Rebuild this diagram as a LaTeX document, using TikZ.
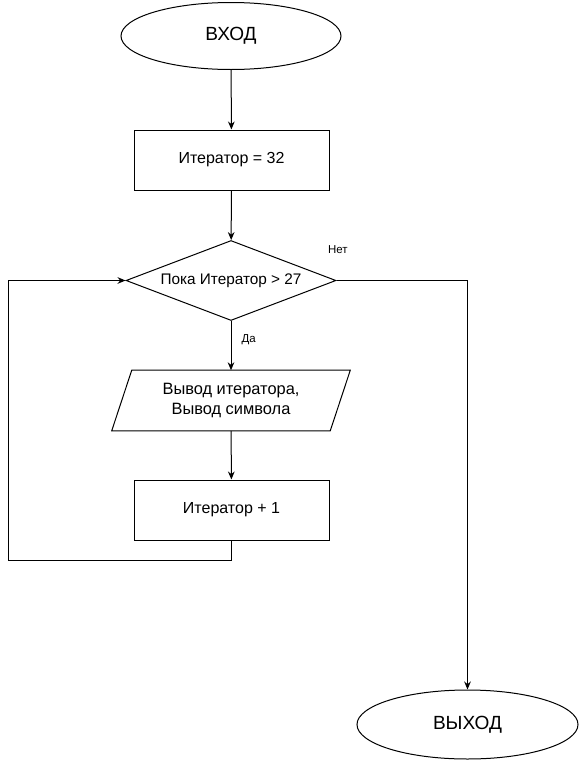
\documentclass[tikz,border=0pt]{standalone}
\usepackage{fontspec}
\setmainfont{Liberation Sans}
\usepackage{tikz}
\usetikzlibrary{shapes.geometric, arrows.meta, positioning, calc}

\begin{document}
\begin{tikzpicture}[
    x=0.75pt, y=-0.75pt,
    termblock/.style={ellipse, draw, line width=0.75pt, minimum width=165pt, minimum height=50.25pt, inner sep=0pt, font=\fontsize{14.3}{16}\selectfont},
    procblock/.style={rectangle, draw, line width=0.75pt, minimum width=146.25pt, minimum height=45pt, inner sep=0pt, font=\fontsize{12}{13.5}\selectfont},
    decblock/.style={diamond, draw, line width=0.75pt, aspect=2.625, minimum width=157.5pt, minimum height=60pt, inner sep=0pt, font=\fontsize{11.5}{13.5}\selectfont},
    ioblock/.style={rectangle, minimum width=163.5pt, minimum height=45pt, inner sep=0pt, align=center, font=\fontsize{12.3}{15.5}\selectfont},
    arrow/.style={-{Stealth[length=6pt, width=5pt]}, line width=0.75pt},
    edgelabel/.style={font=\fontsize{8.6}{10}\selectfont, inner sep=0pt}
]
    \useasboundingbox (0,0) rectangle (579,761);

    % Main chain
    \node[termblock] (start) at (231,36) {ВХОД};
    \node[procblock] (init) at (231.5,160) {Итератор = 32};
    \node[decblock] (cond) at (231,280.5) {Пока Итератор > 27};
    \node[ioblock] (out) at (231,400.5) {Вывод итератора,\\Вывод символа};
    \node[procblock] (inc) at (231.5,510) {Итератор + 1};
    \node[termblock, minimum width=165.75pt, minimum height=51.75pt] (stop) at (467.5,724.5) {ВЫХОД};

    % Parallelogram outline for output
    \draw[line width=0.75pt] ($(out.south west)+(-10,0)$) -- ($(out.north west)+(10,0)$)
        -- ($(out.north east)+(10,0)$) -- ($(out.south east)+(-10,0)$) -- cycle;

    % Loop corner
    \coordinate (loopbl) at (8,560);

    % Flow arrows
    \draw[arrow] (start) -- (init);
    \draw[arrow] (init) -- (cond);
    \draw[arrow] (cond.south) -- node[edgelabel, pos=0.37, anchor=west, xshift=7.5pt] {Да} (out.north);
    \draw[arrow] (out) -- (inc);

    % Back to condition
    \draw[arrow] (inc.south) |- (loopbl) |- (cond.west);

    % Exit path
    \draw[arrow] (cond.east) -| node[edgelabel, at start, anchor=south west, xshift=-6.75pt, yshift=20pt] {Нет} (stop.north);

\end{tikzpicture}
\end{document}
